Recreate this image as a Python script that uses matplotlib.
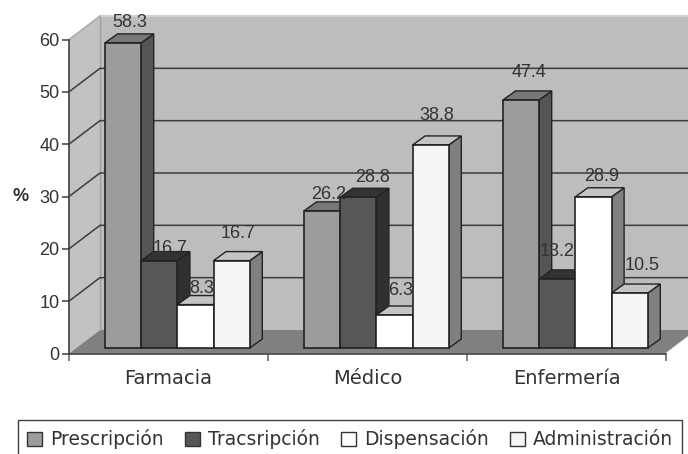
import matplotlib
matplotlib.use("Agg")
import matplotlib.pyplot as plt
from matplotlib.patches import Polygon, Patch

plt.rcParams['font.family'] = ['Liberation Sans', 'DejaVu Sans']

categories = ["Farmacia", "Médico", "Enfermería"]
series_names = ["Prescripción", "Tracsripción", "Dispensación", "Administración"]
prescripcion = [58.3, 26.2, 47.4]
transcripcion = [16.7, 28.8, 13.2]
dispensacion = [8.3, 6.3, 28.9]
administracion = [16.7, 38.8, 10.5]
y_ticks = [0, 10, 20, 30, 40, 50, 60]

W, H = 688, 454
# front plane of the 3d box, pixels
LEFT, RIGHT, TOP, BOTTOM = 69, 666, 39.5, 353.5
TEXT = "#333333"

# projection, in data units
DEPTH_X = 31 / 199
DEPTH_Y = 23.5 / 5.233
BAR_W = 36.2 / 199
BAR_START = 36 / 199
BAR_BASE = 5.5 / 5.233
BAR_DX = 12.5 / 199
BAR_DY = 9 / 5.233

# (front, side, top) per series
colors = [("#9c9c9c", "#555555", "#777777"),
          ("#575757", "#303030", "#333333"),
          ("#ffffff", "#808080", "#c4c4c4"),
          ("#f5f5f5", "#808080", "#c4c4c4")]
# label offset from the bar front top centre, pixels
label_dx = [[7, 7, 8], [11, 14, 0], [6, 6, 8], [6, 6, 12]]
label_dy = [[20, 16, 27], [12, 20, 27], [16, 25, 20], [27, 29, 28]]

fig = plt.figure(figsize=(W / 100, H / 100), dpi=100)
ax = fig.add_axes([LEFT / W, 1 - BOTTOM / H, (RIGHT - LEFT) / W, (BOTTOM - TOP) / H])
ax.set_xlim(0, 3)
ax.set_ylim(0, 60)
ax.patch.set_visible(False)


def poly(points, face, edge="none", lw=0.0, z=1):
    ax.add_patch(Polygon(points, closed=True, facecolor=face, edgecolor=edge,
                         linewidth=lw, zorder=z, clip_on=False))


# walls and floor
poly([(DEPTH_X, DEPTH_Y), (3 + DEPTH_X, DEPTH_Y), (3 + DEPTH_X, 60 + DEPTH_Y), (DEPTH_X, 60 + DEPTH_Y)], "#bdbdbd")
poly([(0, 0), (DEPTH_X, DEPTH_Y), (DEPTH_X, 60 + DEPTH_Y), (0, 60)], "#c2c2c2")
poly([(0, 0), (3, 0), (3 + DEPTH_X, DEPTH_Y), (DEPTH_X, DEPTH_Y)], "#808080")
ax.plot([DEPTH_X, DEPTH_X], [DEPTH_Y, 60 + DEPTH_Y], color="#a0a0a0", lw=1, zorder=1.5, clip_on=False)
ax.plot([DEPTH_X, 3 + DEPTH_X], [60 + DEPTH_Y] * 2, color="#d0d0d0", lw=1.5, zorder=1.5, clip_on=False)

# gridlines
for t in y_ticks[1:-1]:
    ax.plot([0, DEPTH_X, 3 + DEPTH_X], [t, t + DEPTH_Y, t + DEPTH_Y], color="#3c3c3c", lw=1.1,
            zorder=2, clip_on=False)
ax.plot([0, DEPTH_X], [60, 60 + DEPTH_Y], color="#a8a8a8", lw=1, zorder=2, clip_on=False)
ax.plot([3, 3 + DEPTH_X], [0, DEPTH_Y], color="#f0f0f0", lw=1, zorder=2, clip_on=False)

# bars
all_values = [prescripcion, transcripcion, dispensacion, administracion]
z = 3
for c in range(len(categories)):
    for s, values in enumerate(all_values):
        v = values[c]
        x0 = c + BAR_START + s * BAR_W
        x1 = x0 + BAR_W
        y0 = BAR_BASE
        y1 = BAR_BASE + v
        front, side, top = colors[s]
        poly([(x1, y0), (x1 + BAR_DX, y0 + BAR_DY), (x1 + BAR_DX, y1 + BAR_DY), (x1, y1)], side, "#222222", 1.0, z)
        poly([(x0, y1), (x1, y1), (x1 + BAR_DX, y1 + BAR_DY), (x0 + BAR_DX, y1 + BAR_DY)], top, "#222222", 1.0, z)
        poly([(x0, y0), (x1, y0), (x1, y1), (x0, y1)], front, "#222222", 1.2, z + 0.5)
        z += 1
        ax.annotate(f"{v}", (x0 + BAR_W / 2, y1), xytext=(label_dx[s][c], label_dy[s][c]),
                    textcoords="offset pixels", ha="center", va="center", fontsize=13,
                    color=TEXT, zorder=50, annotation_clip=False)

# axes
for name in ["top", "right"]:
    ax.spines[name].set_visible(False)
for name in ["left", "bottom"]:
    ax.spines[name].set_color("#404040")
    ax.spines[name].set_linewidth(1.2)
    ax.spines[name].set_zorder(40)
ax.set_yticks(y_ticks)
ax.tick_params(axis="y", length=5, width=1.1, color="#404040", labelsize=13, labelcolor=TEXT, pad=2)
ax.set_xticks([0, 1, 2, 3])
ax.set_xticklabels([])
ax.set_xticks([0.5, 1.5, 2.5], categories, minor=True)
ax.tick_params(axis="x", which="major", length=5, width=1.1, color="#606060")
ax.tick_params(axis="x", which="minor", length=0, labelsize=14, labelcolor=TEXT, pad=11)
for lab in ax.get_xticklabels(minor=True):
    lab.set_family("DejaVu Sans")
ax.set_ylabel("%", rotation=0, fontsize=13, fontweight="bold", color=TEXT, labelpad=13, va="center")

handles = [Patch(facecolor=colors[i][0], edgecolor="#333333", linewidth=1.0) for i in range(4)]
# box runs past the bottom edge of the picture, as in the original
leg = fig.legend(handles, series_names, ncol=4, loc="upper left",
                 bbox_to_anchor=(18 / W, 1 - 420 / H, 664 / W, 0), mode="expand",
                 fancybox=False, framealpha=1, edgecolor="#404040",
                 prop={"family": "DejaVu Sans", "size": 13.5},
                 handlelength=0.8, handleheight=0.8, handletextpad=0.4, columnspacing=0.5,
                 borderpad=0.5, borderaxespad=0, labelcolor=TEXT)
leg.get_frame().set_linewidth(1.0)

fig.savefig("out.png", dpi=100)
